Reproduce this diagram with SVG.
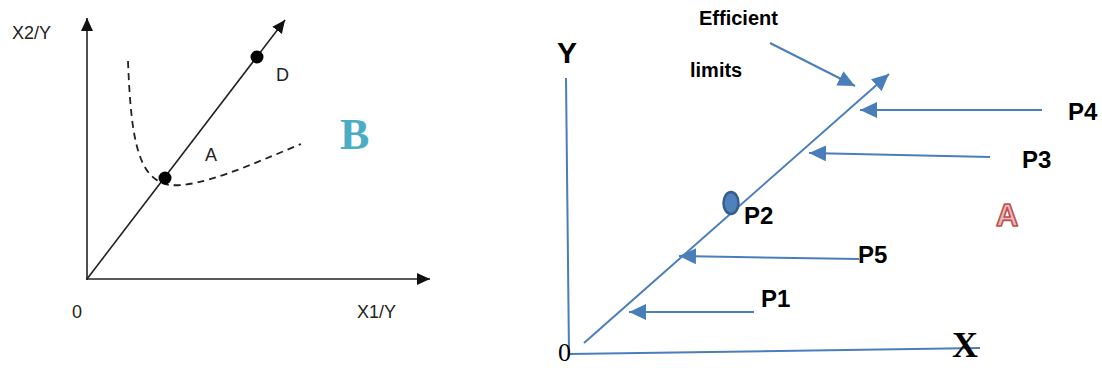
<svg xmlns="http://www.w3.org/2000/svg" width="1102" height="368" viewBox="0 0 1102 368">
<style>
.ax{stroke:#222;stroke-width:1.6;fill:none}
.bl{stroke:#4a7ebb;stroke-width:2;fill:none}
.lt{font-family:"Liberation Sans",Arial,sans-serif;font-size:18px;fill:#222}
.bt{font-family:"Liberation Sans",Arial,sans-serif;font-weight:bold;fill:#000}
</style>
<defs>
<marker id="ka" markerUnits="userSpaceOnUse" markerWidth="14" markerHeight="12" refX="13" refY="6" orient="auto"><path d="M0,0 L13,6 L0,12 Z" fill="#111"/></marker>
<marker id="ba" markerUnits="userSpaceOnUse" markerWidth="18" markerHeight="16" refX="17" refY="8" orient="auto"><path d="M0,0 L17,8 L0,16 Z" fill="#4a7ebb"/></marker>
</defs>
<rect width="1102" height="368" fill="#fff"/>
<g id="left-axes">
<line class="ax" x1="87" y1="280" x2="87" y2="18" marker-end="url(#ka)"/>
<line class="ax" x1="86" y1="279" x2="430" y2="279" marker-end="url(#ka)"/>
</g>
<g id="left-ray">
<line class="ax" x1="87" y1="279" x2="285" y2="20" marker-end="url(#ka)"/>
</g>
<g id="left-curve">
<path d="M128,61 C131,140 138,180 170,185 C200,188 250,165 301,144" fill="none" stroke="#222" stroke-width="1.8" stroke-dasharray="7,5"/>
</g>
<g id="left-point-A"><circle cx="165" cy="178" r="6.5" fill="#000"/></g>
<g id="left-point-D"><circle cx="257" cy="57" r="6.5" fill="#000"/></g>
<g id="left-labels">
<text class="lt" x="12" y="39">X2/Y</text>
<text class="lt" x="72" y="318">0</text>
<text class="lt" x="357" y="318">X1/Y</text>
<text class="lt" x="276" y="81">D</text>
<text class="lt" x="205" y="161">A</text>
<text x="340" y="149" font-family="Liberation Serif,Times New Roman,serif" font-weight="bold" font-size="44" fill="#4bacc6">B</text>
</g>
<g id="right-axes">
<line class="bl" x1="566" y1="78" x2="569" y2="354"/>
<line class="bl" x1="569" y1="354" x2="980" y2="348"/>
</g>
<g id="efficient-limits">
<line class="bl" x1="584" y1="343" x2="889" y2="74" marker-end="url(#ba)"/>
</g>
<g id="connectors">
<line class="bl" x1="770" y1="43" x2="855" y2="86" marker-end="url(#ba)"/>
<line class="bl" x1="1042" y1="110" x2="860" y2="110" marker-end="url(#ba)"/>
<line class="bl" x1="990" y1="157" x2="809" y2="153" marker-end="url(#ba)"/>
<line class="bl" x1="859" y1="259" x2="679" y2="256" marker-end="url(#ba)"/>
<line class="bl" x1="754" y1="312" x2="629" y2="312" marker-end="url(#ba)"/>
</g>
<g id="P2-point"><ellipse cx="731" cy="203" rx="7.5" ry="11" fill="#4f81bd" stroke="#385d8a" stroke-width="2.5"/></g>
<g id="right-labels">
<text class="bt" x="699" y="25" font-size="20">Efficient</text>
<text class="bt" x="690" y="77" font-size="20">limits</text>
<text class="bt" x="557" y="63" font-size="30">Y</text>
<text x="952" y="357" font-family="Liberation Serif,Times New Roman,serif" font-weight="bold" font-size="36" fill="#000">X</text>
<text x="558" y="361" font-family="Liberation Serif,Times New Roman,serif" font-size="26" fill="#000">0</text>
<text class="bt" x="1068" y="120" font-size="24">P4</text>
<text class="bt" x="1022" y="168" font-size="24">P3</text>
<text class="bt" x="744" y="224" font-size="24">P2</text>
<text class="bt" x="858" y="263" font-size="24">P5</text>
<text class="bt" x="761" y="307" font-size="24">P1</text>
<text x="996" y="226" font-family="Liberation Sans,Arial,sans-serif" font-weight="bold" font-size="31" fill="#e6b9b8" stroke="#c0504d" stroke-width="1.6" stroke-linejoin="round">A</text>
</g>
</svg>
